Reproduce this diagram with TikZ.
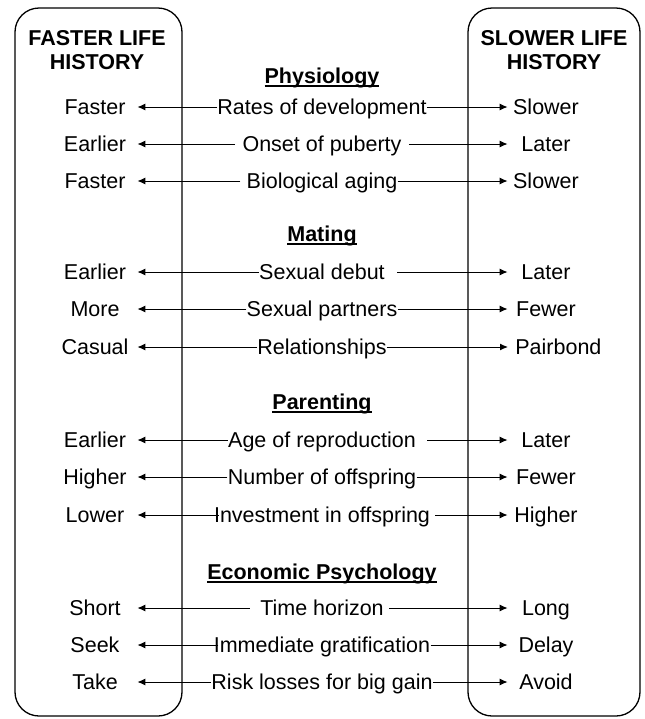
\documentclass[tikz,border=0pt]{standalone}
\usepackage{fontspec}
\setmainfont{Liberation Sans}
\usetikzlibrary{arrows.meta}
\newcommand{\underlined}[1]{\setbox0\hbox{#1}\rlap{\rule[-1.6pt]{\wd0}{0.75pt}}\box0}
\tikzset{
  txt/.style={inner sep=0pt, text height=7.7pt, text depth=0pt, font=\fontsize{10.75}{13}\selectfont},
  lval/.style={txt, minimum width=42pt},
  rval/.style={txt, minimum width=38pt},
  sect/.style={txt, font=\fontsize{10.75}{13}\selectfont\bfseries},
  head/.style={align=center, inner sep=0pt, font=\fontsize{10.75}{12}\selectfont\bfseries},
  arr/.style={-{Latex[length=4pt,width=3.5pt]}, line width=0.5pt},
  box/.style={line width=0.65pt, rounded corners=12pt}
}
\begin{document}
\begin{tikzpicture}[x=0.5pt, y=-0.5pt]
      \useasboundingbox (0,0) rectangle (644,719);
      \draw[box] (15,8) rectangle (182,716)
                 (468,8) rectangle (640,716);
      \draw (97,50) node (fast) [head] {FASTER LIFE\\HISTORY}
            (554,50) node (slow) [head] {SLOWER LIFE\\HISTORY};
      % physiology
      \draw (322,76) node (phys) [sect] {\underlined{Physiology}}
            (95,107) node (l1) [lval] {Faster}
            (322,107) node (m1) [txt] {Rates of development}
            (546,107) node (r1) [rval] {Slower}
            (95,144) node (l2) [lval] {Earlier}
            (322,144) node (m2) [txt] {Onset of puberty}
            (546,144) node (r2) [rval] {Later}
            (95,181) node (l3) [lval] {Faster}
            (322,181) node (m3) [txt] {Biological aging}
            (546,181) node (r3) [rval] {Slower};
      % mating
      \draw (322,234) node (mate) [sect] {\underlined{Mating}}
            (95,272) node (l4) [lval] {Earlier}
            (322,272) node (m4) [txt] {Sexual debut}
            (546,272) node (r4) [rval] {Later}
            (95,309) node (l5) [lval] {More}
            (322,309) node (m5) [txt] {Sexual partners}
            (546,309) node (r5) [rval] {Fewer}
            (95,347) node (l6) [lval] {Casual}
            (322,347) node (m6) [txt] {Relationships}
            (508,347) node (r6) [txt, anchor=west, inner xsep=3.5pt] {Pairbond};
      % parenting
      \draw (322,402) node (par) [sect] {\underlined{Parenting}}
            (95,440) node (l7) [lval] {Earlier}
            (322,440) node (m7) [txt] {Age of reproduction}
            (546,440) node (r7) [rval] {Later}
            (95,477) node (l8) [lval] {Higher}
            (322,477) node (m8) [txt] {Number of offspring}
            (546,477) node (r8) [rval] {Fewer}
            (95,515) node (l9) [lval] {Lower}
            (322,515) node (m9) [txt] {Investment in offspring}
            (546,515) node (r9) [rval] {Higher};
      % economic psychology
      \draw (322,572) node (econ) [sect] {\underlined{Economic Psychology}}
            (95,608) node (l10) [lval] {Short}
            (322,608) node (m10) [txt] {Time horizon}
            (546,608) node (r10) [rval] {Long}
            (95,645) node (l11) [lval] {Seek}
            (322,645) node (m11) [txt] {Immediate gratification}
            (546,645) node (r11) [rval] {Delay}
            (95,682) node (l12) [lval] {Take}
            (322,682) node (m12) [txt] {Risk losses for big gain}
            (546,682) node (r12) [rval] {Avoid};
      \draw[arr] (m1) edge (l1) edge (r1)
                 (m2) edge [shorten <=3.5pt] (l2) edge [shorten <=3.5pt] (r2)
                 (m3) edge [shorten <=3pt] (l3) edge (r3)
                 (m4) edge (l4) edge [shorten <=6pt] (r4)
                 (m5) edge (l5) edge (r5)
                 (m6) edge (l6) edge (r6)
                 (m7) edge (l7) edge [shorten <=5.5pt] (r7)
                 (m8) edge (l8) edge (r8)
                 (m9) edge [shorten <=-2.5pt] (l9) edge [shorten <=2.5pt] (r9)
                 (m10) edge [shorten <=5pt] (l10) edge [shorten <=2.5pt] (r10)
                 (m11) edge [shorten <=-2.5pt] (l11) edge (r11)
                 (m12) edge (l12) edge (r12);
\end{tikzpicture}
\end{document}
